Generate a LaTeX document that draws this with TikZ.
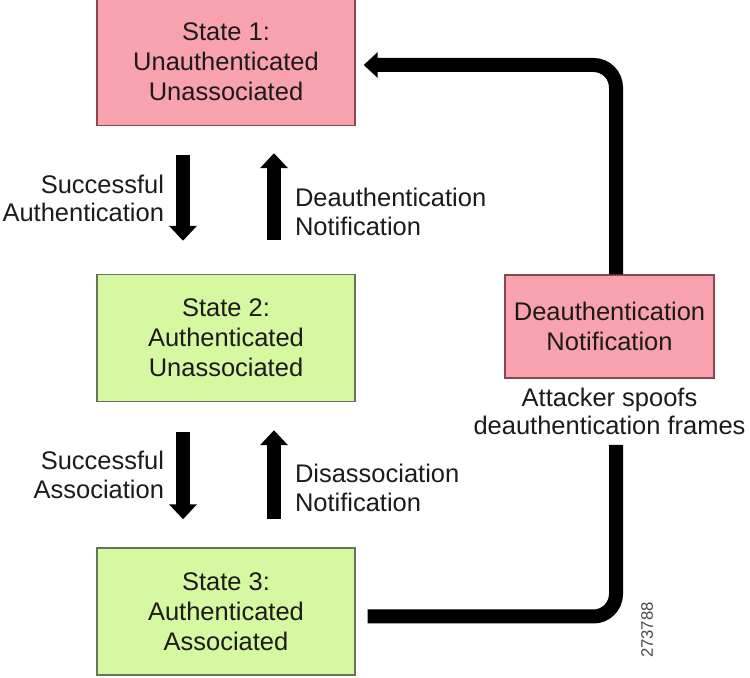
\documentclass[tikz,border=0pt]{standalone}
\usepackage{fontspec}
\setmainfont{Liberation Sans}
\usetikzlibrary{calc,positioning,arrows.meta}
\definecolor{stpink}{RGB}{247,162,174}
\definecolor{stpinkline}{RGB}{140,70,82}
\definecolor{stgreen}{RGB}{213,248,160}
\definecolor{stgreenline}{RGB}{105,115,92}
\definecolor{txdark}{RGB}{30,26,28}

\begin{document}
\begin{tikzpicture}[
 statebox/.style={draw, line width=0.8pt, minimum width=5.16cm,
          minimum height=2.54cm, align=center, text=txdark,
          font=\fontsize{14.5}{17.2}\selectfont, inner sep=2pt},
 pinkbox/.style={statebox, fill=stpink, draw=stpinkline},
 greenbox/.style={statebox, fill=stgreen, draw=stgreenline},
 fatarrow/.style={line width=0.28cm, draw=black,
         -{Triangle[length=0.3cm,width=0.54cm]}},
 loopline/.style={line width=0.28cm, draw=black, rounded corners=0.45cm},
 lbl/.style={font=\fontsize{14.5}{16.2}\selectfont, text=txdark, inner sep=0pt}
]
\useasboundingbox (0,0) rectangle (15,13.56);
% The three association states, one under another
\node[pinkbox] (s1) at (4.52, 12.32) {State 1:\\Unauthenticated\\Unassociated};
\node[greenbox] (s2) at (4.52, 6.80) {State 2:\\Authenticated\\Unassociated};
\node[greenbox] (s3) at (4.52, 1.33) {State 3:\\Authenticated\\Associated};
\node[pinkbox, minimum width=4.18cm, minimum height=2.06cm] (deauth) at (12.19, 7.03)
 {Deauthentication\\Notification};
\node[lbl, align=center, below=0.17cm of deauth] (spoof)
 {Attacker spoofs\\deauthentication frames};
\node[font=\fontsize{9.5}{11}\selectfont, text=txdark!80, rotate=90] (fig) at (12.94, 0.96) {273788};
% Transitions between neighbouring states
\draw[fatarrow, shorten <=0.58cm, shorten >=0.66cm] ([xshift=-0.86cm]s1.south) --
 node[lbl, align=right, left=0.24cm, pos=0.49] (auth) {Successful\\Authentication}
 ([xshift=-0.86cm]s1.south |- s2.north);
\draw[fatarrow, shorten <=0.68cm, shorten >=0.54cm] ([xshift=0.96cm]s1.south |- s2.north) --
 node[lbl, align=left, right=0.28cm, pos=0.42] (deauthnote) {Deauthentication\\Notification}
 ([xshift=0.96cm]s1.south);
\draw[fatarrow, shorten <=0.6cm, shorten >=0.56cm] ([xshift=-0.86cm]s2.south) --
 node[lbl, align=right, left=0.24cm, pos=0.5] (assoc) {Successful\\Association}
 ([xshift=-0.86cm]s2.south |- s3.north);
\draw[fatarrow, shorten <=0.56cm, shorten >=0.56cm] ([xshift=0.96cm]s2.south |- s3.north) --
 node[lbl, align=left, right=0.28cm, pos=0.41] (disassoc) {Disassociation\\Notification}
 ([xshift=0.96cm]s2.south);
% Spoofed frames knock the station back to state 1
\coordinate (gapbot) at (12.32, 4.66);
\draw[loopline] ([xshift=0.24cm, yshift=-0.1cm]s3.east) -| (gapbot);
\draw[loopline, -{Triangle[length=0.28cm,width=0.5cm]}]
 (deauth.north -| gapbot) |- ([xshift=0.16cm, yshift=-0.06cm]s1.east);
\end{tikzpicture}
\end{document}
